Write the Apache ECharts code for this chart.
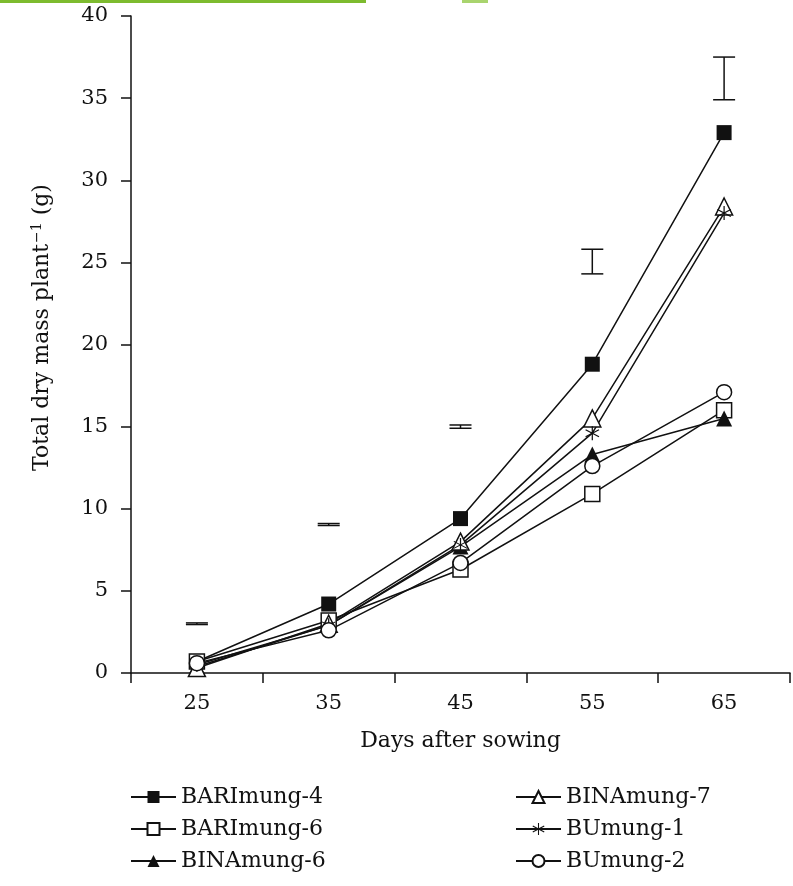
<!DOCTYPE html>
<html>
<head>
<meta charset="utf-8">
<script src="https://cdn.jsdelivr.net/npm/echarts@6/dist/echarts.min.js"></script>
<style>
html,body{margin:0;padding:0;background:#fff;}
#chart{width:793px;height:886px;}
</style>
</head>
<body>
<div id="chart"></div>
<script>
var days = ['25', '35', '45', '55', '65'];
var yTicks = [0, 5, 10, 15, 20, 25, 30, 35, 40];
var bari4 = [0.7, 4.2, 9.4, 18.8, 32.9];
var bari6 = [0.7, 3.2, 6.3, 10.9, 16.0];
var bina6 = [0.4, 2.9, 7.7, 13.3, 15.5];
var bina7 = [0.3, 3.0, 8.0, 15.5, 28.4];
var bu1   = [0.5, 2.9, 7.8, 14.6, 28.0];
var bu2   = [0.6, 2.6, 6.7, 12.6, 17.1];
var errLow  = [2.95, 8.98, 14.9, 24.3, 34.9];
var errHigh = [3.05, 9.1, 15.1, 25.8, 37.5];

var FONT = '"DejaVu Serif", "Liberation Serif", serif';
var INK = '#111';
var asterisk = 'path://M46,0L54,0L54,100L46,100Z M8.7,21.54L95.3,71.54L91.3,78.46L4.7,28.46Z M4.7,71.54L91.3,21.54L95.3,28.46L8.7,78.46Z';

function mk(name, data, symbol, filled, size) {
  return {
    name: name, type: 'line', data: data,
    symbol: symbol, symbolSize: size,
    showSymbol: true,
    lineStyle: { color: INK, width: 1.5 },
    itemStyle: { color: filled ? INK : '#fff', borderColor: INK, borderWidth: filled ? 0 : 1.5 },
    emphasis: { disabled: true },
    animation: false
  };
}

var errData = days.map(function (d, i) { return [i, errLow[i], errHigh[i]]; });

var legendBase = {
  top: 786, orient: 'vertical', itemGap: 10, itemWidth: 45, itemHeight: 15, padding: 0,
  textStyle: { fontFamily: FONT, fontSize: 22, color: INK },
  selectedMode: false
};

var chart = echarts.init(document.getElementById('chart'), null, { renderer: 'canvas' });
chart.setOption({
  animation: false,
  backgroundColor: '#fff',
  textStyle: { fontFamily: FONT, color: INK },
  grid: { left: 131, right: 3, top: 16, bottom: 213 },
  graphic: [
    { type: 'rect', left: 0, top: 0, shape: { width: 366, height: 3 }, style: { fill: '#7dbb2f' } },
    { type: 'rect', left: 462, top: 0, shape: { width: 26, height: 3 }, style: { fill: '#a9d46e' } }
  ],
  xAxis: {
    type: 'category', data: days, boundaryGap: true,
    name: 'Days after sowing', nameLocation: 'middle', nameGap: 57,
    nameTextStyle: { fontFamily: FONT, fontSize: 22, color: INK },
    axisLine: { lineStyle: { color: INK, width: 1.5 } },
    axisTick: { show: true, length: 10, lineStyle: { color: INK, width: 1.5 } },
    axisLabel: { fontFamily: FONT, fontSize: 21, color: INK, margin: 20 },
    splitLine: { show: false }
  },
  yAxis: {
    type: 'value', min: 0, max: 40, interval: 5,
    name: '{a|Total dry mass plant}{s|−1}{a| (g)}', nameLocation: 'middle', nameGap: 76, nameRotate: 90,
    nameTextStyle: {
      fontFamily: FONT, fontSize: 22, color: INK, padding: [0, 0, 0, 34],
      rich: {
        a: { fontFamily: FONT, fontSize: 22, color: INK },
        s: { fontFamily: FONT, fontSize: 14, color: INK, padding: [0, 0, 11, 1] }
      }
    },
    axisLine: { show: true, lineStyle: { color: INK, width: 1.5 } },
    axisTick: { show: true, length: 10, lineStyle: { color: INK, width: 1.5 } },
    axisLabel: { fontFamily: FONT, fontSize: 21, color: INK, margin: 23 },
    splitLine: { show: false }
  },
  legend: [
    Object.assign({ left: 130, data: ['BARImung-4', 'BARImung-6', 'BINAmung-6'] }, legendBase),
    Object.assign({ left: 515, data: ['BINAmung-7', 'BUmung-1', 'BUmung-2'] }, legendBase)
  ],
  series: [
    {
      type: 'custom', name: 'LSD', data: errData, encode: { x: 0, y: [1, 2] },
      silent: true, z: 1,
      renderItem: function (params, api) {
        var lo = api.coord([api.value(0), api.value(1)]);
        var hi = api.coord([api.value(0), api.value(2)]);
        var hw = 11;
        var st = { stroke: INK, lineWidth: 1.5, fill: null };
        return {
          type: 'group', children: [
            { type: 'line', shape: { x1: lo[0], y1: lo[1], x2: hi[0], y2: hi[1] }, style: st },
            { type: 'line', shape: { x1: lo[0] - hw, y1: lo[1], x2: lo[0] + hw, y2: lo[1] }, style: st },
            { type: 'line', shape: { x1: hi[0] - hw, y1: hi[1], x2: hi[0] + hw, y2: hi[1] }, style: st }
          ]
        };
      }
    },
    mk('BARImung-4', bari4, 'rect', true, 15),
    mk('BARImung-6', bari6, 'rect', false, 15),
    mk('BINAmung-6', bina6, 'triangle', true, 16),
    mk('BINAmung-7', bina7, 'triangle', false, 17),
    mk('BUmung-1', bu1, asterisk, true, 14),
    mk('BUmung-2', bu2, 'circle', false, 15)
  ]
});
</script>
</body>
</html>
